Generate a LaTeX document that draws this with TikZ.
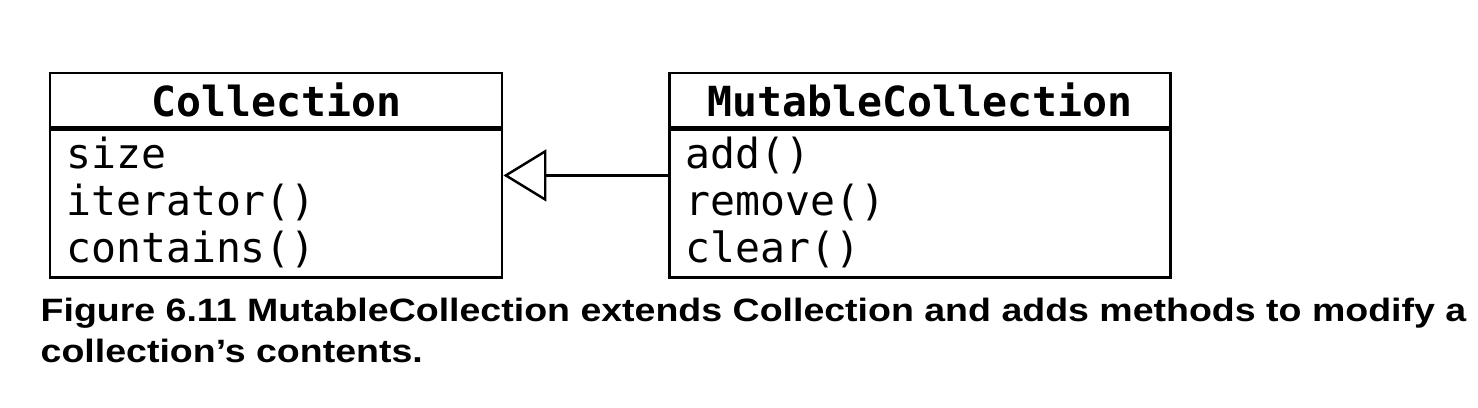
\documentclass[tikz,border=0pt]{standalone}
\usepackage{fontspec}
\setmonofont{DejaVu Sans Mono}
\newfontfamily\captionfont[FakeStretch=1.16]{Liberation Sans}
\usetikzlibrary{arrows.meta,positioning,calc}

\begin{document}
\begin{tikzpicture}[
    node distance=1.65cm,
    head/.style={draw,line width=0.7pt,minimum height=0.54cm,inner sep=0pt,font=\fontsize{11.8}{13.4}\selectfont\ttfamily\bfseries},
    members/.style={draw,line width=0.7pt,minimum height=1.48cm,inner xsep=0.16cm,inner ysep=0pt,text height=0.35cm,text depth=1.05cm,align=left,font=\fontsize{11.8}{13.4}\selectfont\ttfamily},
    extends/.style={-{Triangle[open,length=4.3mm,width=5.2mm]},line width=0.7pt}
  ]
    \useasboundingbox (0,0) rectangle (14.78,4.08);
    \node[head,minimum width=4.52cm,anchor=north west] (coll) at (0.49,3.36) {Collection};
    \node[members,text width=4.2cm,below=0pt of coll] (collbody) {size\\iterator()\\contains()};
    \node[head,minimum width=5.01cm,right=of coll] (mut) {MutableCollection};
    \node[members,text width=4.69cm,below=0pt of mut] (mutbody) {add()\\remove()\\clear()};
    \draw[extends] ($(mut.north west)!0.5!(mutbody.south west)$) -- ($(coll.north east)!0.5!(collbody.south east)$);
    \node[anchor=base west,align=left,inner sep=0pt,font=\fontsize{9.2}{11.7}\selectfont\captionfont\bfseries] (cap) at (0.40,0.45) {Figure 6.11 MutableCollection extends Collection and adds methods to modify a\\collection’s contents.};
\end{tikzpicture}
\end{document}
